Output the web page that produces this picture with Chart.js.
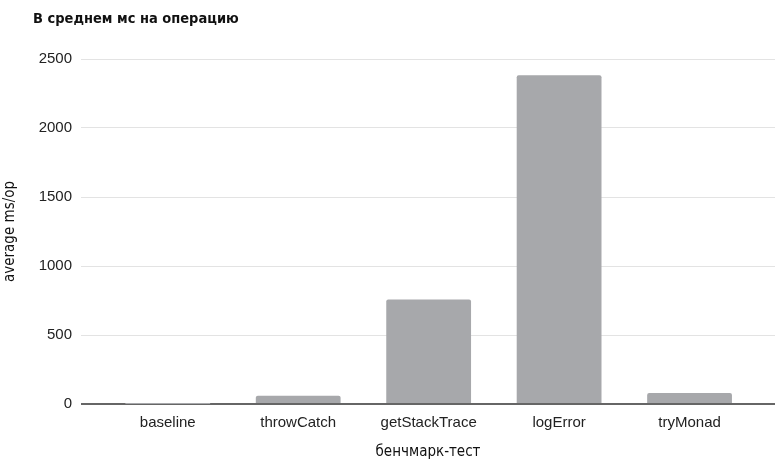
<!DOCTYPE html>
<html>
<head>
<meta charset="utf-8">
<script src="https://cdn.jsdelivr.net/npm/chart.js@4"></script>
<style>
html,body{margin:0;padding:0;background:#fff;}
#wrap{width:775px;height:465px;position:relative;}
</style>
</head>
<body>
<div id="wrap"><canvas id="c" width="775" height="465"></canvas></div>
<script>
const chartTitle = "В среднем мс на операцию";
const xAxisTitle = "бенчмарк-тест";
const yAxisTitle = "average ms/op";
const categories = ["baseline", "throwCatch", "getStackTrace", "logError", "tryMonad"];
const avgMsPerOp = [0.3, 60, 757, 2383, 80];
const yTicks = [0, 500, 1000, 1500, 2000, 2500];

const points = categories.map((c, i) => ({x: i, y: avgMsPerOp[i]}));

const titlePlugin = {
  id: 'leftTitle',
  afterDraw(chart) {
    const ctx = chart.ctx;
    ctx.save();
    ctx.font = "bold 14.5px 'Liberation Sans Narrow', 'DejaVu Sans Condensed', sans-serif";
    ctx.fillStyle = '#111';
    ctx.textBaseline = 'middle';
    ctx.textAlign = 'left';
    ctx.fillText(chartTitle, 33, 19);
    ctx.restore();
  }
};

new Chart(document.getElementById('c'), {
  type: 'bar',
  data: {
    datasets: [{
      data: points,
      backgroundColor: '#a7a8ab',
      borderRadius: {topLeft: 2, topRight: 2, bottomLeft: 0, bottomRight: 0},
      borderSkipped: 'bottom',
      barPercentage: 0.65,
      categoryPercentage: 1.0
    }]
  },
  options: {
    responsive: false,
    animation: false,
    layout: {padding: {top: 59, right: 0, bottom: 0, left: 0}},
    plugins: {legend: {display: false}, tooltip: {enabled: false}, title: {display: false}},
    scales: {
      x: {
        type: 'linear',
        min: -0.665,
        max: 4.655,
        offset: false,
        grid: {display: false, drawTicks: false},
        border: {display: false},
        afterBuildTicks(scale) {
          scale.ticks = categories.map((c, i) => ({value: i}));
        },
        ticks: {
          autoSkip: false,
          maxRotation: 0,
          padding: 10,
          color: '#222',
          font: {family: "'Liberation Sans', Arial, sans-serif", size: 15},
          callback: (v) => categories[v] ?? ''
        },
        title: {
          display: true,
          text: xAxisTitle,
          color: '#111',
          font: {family: "'Liberation Sans Narrow', 'DejaVu Sans Condensed', sans-serif", size: 15},
          padding: {top: 0, bottom: 4}
        },
        afterFit(scale) { scale.height = 61; }
      },
      y: {
        min: 0,
        max: 2500,
        afterBuildTicks(scale) {
          scale.ticks = yTicks.map(v => ({value: v}));
        },
        grid: {
          color: (ctx) => ctx.tick && ctx.tick.value === 0 ? '#666' : '#e3e3e3',
          lineWidth: (ctx) => ctx.tick && ctx.tick.value === 0 ? 2 : 1,
          drawTicks: false
        },
        border: {display: false},
        ticks: {
          padding: 9,
          color: '#222',
          font: {family: "'Liberation Sans', Arial, sans-serif", size: 15},
          callback: (v) => String(v)
        },
        title: {
          display: true,
          text: yAxisTitle,
          color: '#111',
          font: {family: "'Liberation Sans Narrow', 'DejaVu Sans Condensed', sans-serif", size: 15},
          padding: {top: 1, bottom: 0}
        },
        afterFit(scale) { scale.width = 81; }
      }
    }
  },
  plugins: [titlePlugin]
});
</script>
</body>
</html>
